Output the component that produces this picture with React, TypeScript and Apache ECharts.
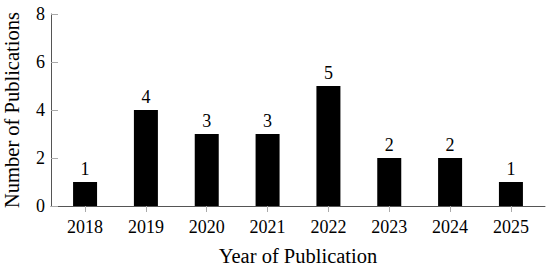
import React, { useEffect, useRef } from "react";
import * as echarts from "echarts";

const years = [2018, 2019, 2020, 2021, 2022, 2023, 2024, 2025];
const counts = [1, 4, 3, 3, 5, 2, 2, 1];
const yTicks = [0, 2, 4, 6, 8];

const FONT = "Liberation Serif";

export default function App() {
  const ref = useRef<HTMLDivElement>(null);
  useEffect(() => {
    if (!ref.current) return;
    const chart = echarts.init(ref.current, null, { renderer: "svg" });
    chart.setOption({
      animation: false,
      textStyle: { fontFamily: FONT, color: "#000" },
      grid: { left: 51, right: 5, top: 14, bottom: 63, outerBoundsMode: "none", containLabel: false },
      xAxis: {
        type: "value",
        min: 2017.44,
        max: 2025.56,
        name: "Year of Publication",
        nameLocation: "middle",
        nameGap: 39,
        nameTextStyle: { fontFamily: FONT, fontSize: 20.5, color: "#000" },
        axisLine: { show: true, lineStyle: { color: "#555", width: 1 } },
        axisTick: {
          show: true,
          customValues: years,
          length: 6,
          lineStyle: { color: "#aaa" },
        },
        axisLabel: {
          customValues: years,
          formatter: (v: number) => String(Math.round(v)),
          fontFamily: FONT,
          fontSize: 18,
          color: "#000",
          margin: 12,
        },
        splitLine: { show: false },
      },
      yAxis: {
        type: "value",
        min: yTicks[0],
        max: yTicks[yTicks.length - 1],
        interval: 2,
        name: "Number of Publications",
        nameLocation: "middle",
        nameGap: 29,
        nameTextStyle: { fontFamily: FONT, fontSize: 20.5, color: "#000" },
        axisLine: { show: true, lineStyle: { color: "#555", width: 1 } },
        axisTick: {
          show: true,
          inside: true,
          length: 7,
          lineStyle: { color: "#aaa" },
        },
        axisLabel: {
          fontFamily: FONT,
          fontSize: 18,
          color: "#000",
          margin: 6,
        },
        splitLine: { show: false },
      },
      series: [
        {
          type: "bar",
          data: years.map((y, i) => [y, counts[i]]),
          barWidth: 24,
          itemStyle: { color: "#000" },
          label: {
            show: true,
            position: "top",
            distance: 4,
            fontFamily: FONT,
            fontSize: 18,
            color: "#000",
            formatter: (p: any) => String(p.value[1]),
          },
        },
      ],
    });
    return () => chart.dispose();
  }, []);
  return <div ref={ref} style={{ width: 550, height: 269, position: "absolute", left: 0, top: 0 }} />;
}
